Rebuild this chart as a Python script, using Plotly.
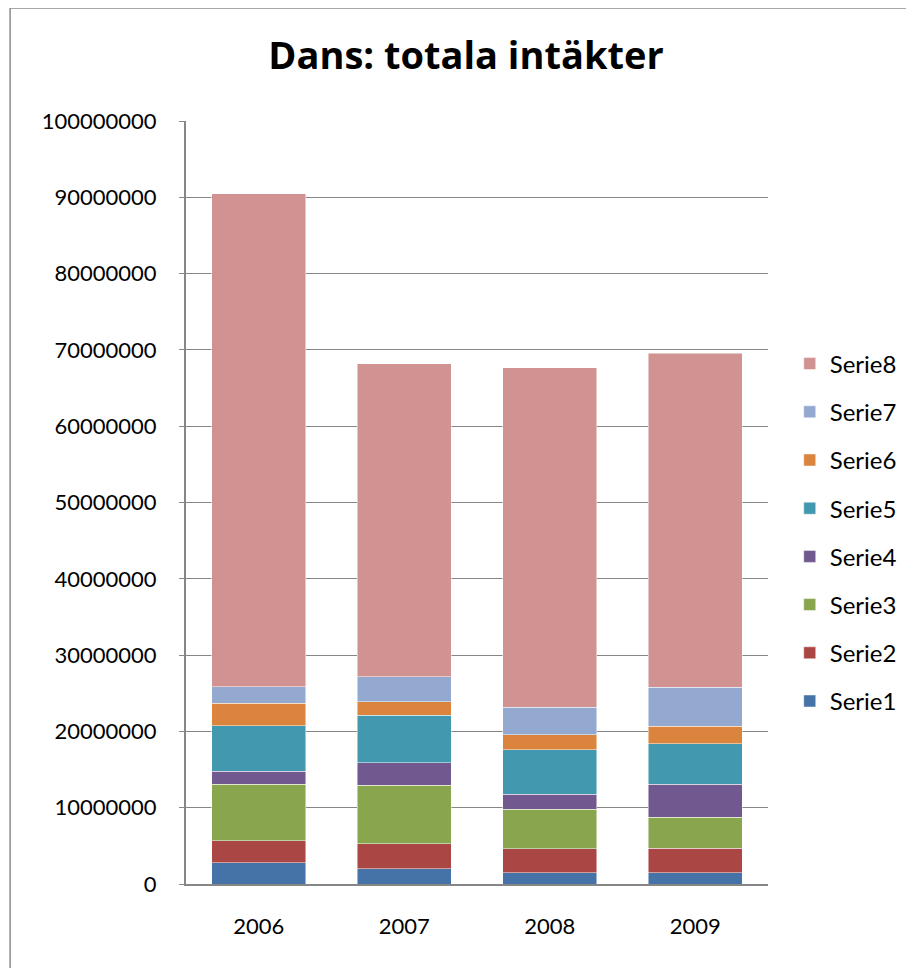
import plotly.graph_objects as go

# categories and series
years = ['2006', '2007', '2008', '2009']
serie1 = [2770000, 2030000, 1460000, 1460000]
serie2 = [2920000, 3260000, 3140000, 3220000]
serie3 = [7410000, 7680000, 5230000, 4100000]
serie4 = [1650000, 2950000, 1910000, 4270000]
serie5 = [6010000, 6200000, 5840000, 5350000]
serie6 = [2930000, 1740000, 2000000, 2280000]
serie7 = [2170000, 3300000, 3580000, 5100000]
serie8 = [64620000, 41010000, 44530000, 43780000]

names = ['Serie1', 'Serie2', 'Serie3', 'Serie4', 'Serie5', 'Serie6', 'Serie7', 'Serie8']
colors = ['#4572A7', '#AA4643', '#89A54E', '#71588F', '#4198AF', '#DB843D', '#93A9CF', '#D19392']
series = [serie1, serie2, serie3, serie4, serie5, serie6, serie7, serie8]

font = 'Lato'
grid = '#868686'

fig = go.Figure()
for i, (name, vals, col) in enumerate(zip(names, series, colors)):
    # top series first in the legend, like Excel
    fig.add_trace(go.Bar(x=years, y=vals, name=name, legendgroup=name, legendrank=100 - i,
                         marker=dict(color=col, line=dict(color='rgba(255,255,255,0.6)', width=0.8))))

# the page puts the figure 8px in from the corner, so sizes are 8px smaller
W, H = 906, 960
L, R, T, B = 178, 767, 113, 876   # plot area in figure px
pw, ph = R - L, B - T

fig.update_layout(
    width=W, height=H,
    margin=dict(l=L, r=W - R, t=T, b=H - B),
    barmode='stack', bargap=0.355,
    plot_bgcolor='white', paper_bgcolor='white',
    font=dict(family=font, size=22, color='black'),
    title=dict(text='<b>Dans: totala intäkter</b>', x=(466 - 8) / W, xref='container', xanchor='center',
               y=1 - (56 - 8) / H, yref='container', yanchor='middle',
               font=dict(family='Open Sans', size=38, color='black')),
    legend=dict(x=(789 - L) / pw, xanchor='left', y=0.4607, yanchor='middle',
                traceorder='grouped', tracegroupgap=14,
                font=dict(family=font, size=24, color='black')),
    shapes=[dict(type='rect', xref='paper', yref='paper',
                 x0=(0 - L) / pw, x1=(930 - L) / pw,
                 y0=(B - 990) / ph, y1=(B - 0) / ph,
                 line=dict(color='#8c8c8c', width=1.5), layer='below')],
)

fig.update_yaxes(range=[0, 100000000], dtick=10000000, tickformat='d',
                 showgrid=True, gridcolor=grid, gridwidth=1.3,
                 showline=True, linecolor=grid, linewidth=2,
                 ticks='outside', ticklen=5, tickcolor=grid, ticklabelstandoff=18,
                 zeroline=False)
fig.update_xaxes(showline=True, linecolor=grid, linewidth=2, ticks='',
                 ticklabelstandoff=22)

fig.write_html('out.html')
